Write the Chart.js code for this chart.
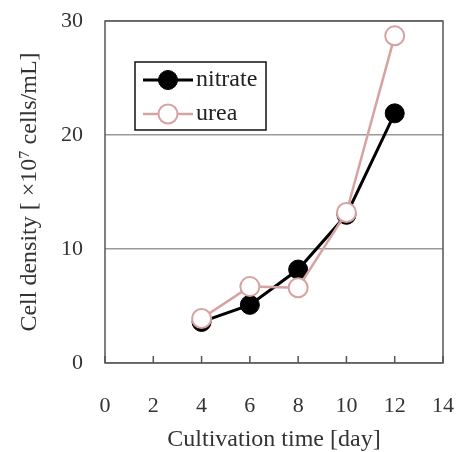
<!DOCTYPE html>
<html><head><meta charset="utf-8">
<script src="https://cdn.jsdelivr.net/npm/chart.js@4"></script>
<style>html,body{margin:0;padding:0;background:#fff}#w{width:456px;height:452px;position:relative}</style>
</head><body><div id="w"><canvas id="c"></canvas></div>
<script>
const days = [4, 6, 8, 10, 12];
const nitrate = [3.6, 5.1, 8.2, 13.0, 21.9];
const urea = [3.9, 6.7, 6.6, 13.2, 28.7];
const xTicks = [0, 2, 4, 6, 8, 10, 12, 14];
const yTicks = [0, 10, 20, 30];
const seriesNames = ['nitrate', 'urea'];
const xTitle = 'Cultivation time [day]';
const yTitle = 'Cell density [ \u00d710\u2077 cells/mL]';

const FONT = "'Liberation Serif', 'Times New Roman', serif";
const TXT = '#333333';
const PINK = '#d6a2a2';

const frame = {
  id: 'frame',
  beforeDatasetsDraw(chart) {
    const {ctx, chartArea: a, scales} = chart;
    ctx.save();
    ctx.strokeStyle = '#555555';
    ctx.lineWidth = 1.5;
    ctx.strokeRect(a.left, a.top, a.right - a.left, a.bottom - a.top);
    xTicks.forEach(v => {
      const x = scales.x.getPixelForValue(v);
      ctx.beginPath();
      ctx.moveTo(x, a.bottom);
      ctx.lineTo(x, a.bottom - 7);
      ctx.stroke();
    });
    ctx.restore();
  }
};

const legendBox = {
  id: 'legendBox',
  afterDatasetsDraw(chart) {
    const {ctx} = chart;
    const bx = 135, by = 62, bw = 131, bh = 68;
    ctx.save();
    ctx.fillStyle = '#fff';
    ctx.fillRect(bx, by, bw, bh);
    ctx.strokeStyle = '#111';
    ctx.lineWidth = 1.5;
    ctx.strokeRect(bx, by, bw, bh);
    const rows = [80, 114];
    chart.data.datasets.slice().sort((p, q) => seriesNames.indexOf(p.label) - seriesNames.indexOf(q.label)).forEach((ds, i) => {
      const y = rows[i];
      ctx.strokeStyle = ds.borderColor;
      ctx.lineWidth = ds.borderWidth;
      ctx.beginPath();
      ctx.moveTo(143, y);
      ctx.lineTo(193, y);
      ctx.stroke();
      ctx.fillStyle = ds.pointBackgroundColor;
      ctx.strokeStyle = ds.pointBorderColor;
      ctx.lineWidth = ds.pointBorderWidth;
      ctx.beginPath();
      ctx.arc(168, y, ds.pointRadius, 0, Math.PI * 2);
      ctx.fill();
      ctx.stroke();
      ctx.fillStyle = '#222';
      ctx.font = "24px " + FONT;
      ctx.textBaseline = 'middle';
      ctx.textAlign = 'left';
      ctx.fillText(ds.label, 196, y);
    });
    ctx.restore();
  }
};

const noPad = s => { s.paddingLeft = 0; s.paddingRight = 0; s.paddingTop = 0; s.paddingBottom = 0; };

new Chart(document.getElementById('c'), {
  type: 'line',
  data: {
    datasets: [
      {
        label: seriesNames[1],
        data: days.map((d, i) => ({x: d, y: urea[i]})),
        borderColor: PINK, borderWidth: 2.5,
        pointRadius: 9.5, pointBackgroundColor: '#ffffff',
        pointBorderColor: PINK, pointBorderWidth: 2,
        order: 0, tension: 0
      },
      {
        label: seriesNames[0],
        data: days.map((d, i) => ({x: d, y: nitrate[i]})),
        borderColor: '#000000', borderWidth: 3,
        pointRadius: 9.5, pointBackgroundColor: '#000000',
        pointBorderColor: '#000000', pointBorderWidth: 1,
        order: 1, tension: 0
      }
    ]
  },
  options: {
    responsive: true, maintainAspectRatio: false, animation: false,
    layout: {padding: {left: 0, right: 13, top: 21, bottom: 0}},
    plugins: {legend: {display: false}, tooltip: {enabled: false}},
    scales: {
      x: {
        type: 'linear', min: 0, max: 14,
        afterBuildTicks: s => { s.ticks = xTicks.map(v => ({value: v})); },
        afterFit: s => { s.height = 89; noPad(s); },
        grid: {display: false, drawTicks: false},
        border: {display: false},
        ticks: {color: TXT, font: {family: FONT, size: 22}, padding: 30, maxRotation: 0},
        title: {display: true, text: xTitle, color: TXT, font: {family: FONT, size: 24, lineHeight: 1.0}, padding: {top: 0, bottom: 0}}
      },
      y: {
        min: 0, max: 30,
        afterBuildTicks: s => { s.ticks = yTicks.map(v => ({value: v})); },
        afterFit: s => { s.width = 105; noPad(s); },
        grid: {color: '#9a9a9a', lineWidth: 1.5, drawTicks: false},
        border: {display: false},
        ticks: {color: TXT, font: {family: FONT, size: 22}, padding: 22},
        title: {display: true, text: yTitle, color: TXT, font: {family: FONT, size: 24}, padding: {top: 15, bottom: 0}}
      }
    }
  },
  plugins: [frame, legendBox]
});
</script>
</body></html>
